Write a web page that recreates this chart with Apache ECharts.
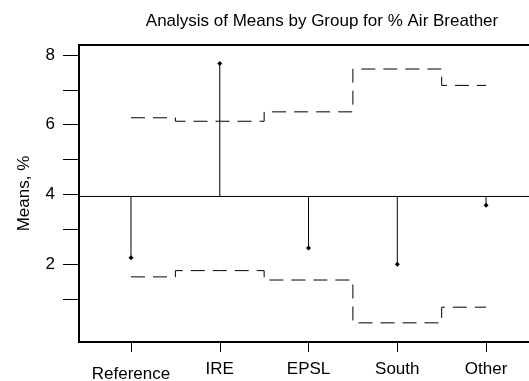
<!DOCTYPE html>
<html>
<head>
<meta charset="utf-8">
<script src="https://cdn.jsdelivr.net/npm/echarts@6/dist/echarts.min.js"></script>
<style>html,body{margin:0;padding:0;background:#fff;}#c{width:529px;height:381px;}</style>
</head>
<body>
<div id="c"></div>
<script>
var categories = ['Reference', 'IRE', 'EPSL', 'South', 'Other'];
var means = [2.18, 7.76, 2.46, 1.99, 3.69];
var upperLimits = [6.20, 6.10, 6.37, 7.60, 7.13];
var lowerLimits = [1.63, 1.81, 1.54, 0.31, 0.76];
var centerLine = 3.94;
var yTicks = [1, 2, 3, 4, 5, 6, 7, 8];
var yLabels = [2, 4, 6, 8];

var idx = categories.map(function (c, i) { return i; });
var FONT = 'Liberation Sans, Arial, sans-serif';

var chart = echarts.init(document.getElementById('c'), null, {renderer: 'canvas'});
chart.setOption({
  animation: false,
  backgroundColor: '#fff',
  title: {
    text: 'Analysis of Means by Group for % Air Breather',
    left: 317, top: 8, textAlign: 'center',
    textStyle: {fontFamily: FONT, fontSize: 17, fontWeight: 'normal', color: '#000'}
  },
  grid: {left: 79, top: 45, right: 0, bottom: 39, containLabel: false, outerBoundsMode: 'none'},
  xAxis: [{
    type: 'value', min: -0.586, max: 4.484,
    axisLine: {show: true, onZero: false, lineStyle: {color: '#000', width: 2}},
    axisTick: {show: true, customValues: idx, length: 10, lineStyle: {color: '#000', width: 1}},
    axisLabel: {
      customValues: idx, margin: 19, color: '#000', fontFamily: FONT, fontSize: 17,
      formatter: function (v) {
        var i = Math.round(v);
        return i === 0 ? '{low|' + categories[i] + '}' : categories[i];
      },
      rich: {low: {fontFamily: FONT, fontSize: 17, color: '#000', padding: [5, 0, 0, 0]}}
    },
    splitLine: {show: false}
  }, {
    type: 'value', position: 'top', min: -0.586, max: 4.484,
    axisLine: {show: true, onZero: false, lineStyle: {color: '#000', width: 2}},
    axisTick: {show: false}, axisLabel: {show: false}, splitLine: {show: false}
  }],
  yAxis: {
    type: 'value', min: -0.24, max: 8.29,
    name: 'Means, %', nameLocation: 'middle', nameGap: 46,
    nameTextStyle: {fontFamily: FONT, fontSize: 17, color: '#000'},
    axisLine: {show: true, onZero: false, lineStyle: {color: '#000', width: 2}},
    axisTick: {show: true, customValues: yTicks, length: 16, lineStyle: {color: '#000', width: 1}},
    axisLabel: {customValues: yLabels, margin: 24, color: '#000', fontFamily: FONT, fontSize: 17},
    splitLine: {show: false}
  },
  series: [
    {
      type: 'line', step: 'middle', symbol: 'none',
      data: idx.map(function (i) { return [i, upperLimits[i]]; }),
      lineStyle: {color: '#000', width: 1, type: [14, 8]}
    },
    {
      type: 'line', step: 'middle', symbol: 'none',
      data: idx.map(function (i) { return [i, lowerLimits[i]]; }),
      lineStyle: {color: '#000', width: 1, type: [14, 8]}
    },
    {
      type: 'line', symbol: 'none',
      data: [[-0.586, centerLine], [4.484, centerLine]],
      lineStyle: {color: '#000', width: 1}
    },
    {
      type: 'custom',
      data: idx.map(function (i) { return [i, means[i]]; }),
      renderItem: function (params, api) {
        var x = api.value(0), y = api.value(1);
        var p0 = api.coord([x, centerLine]);
        var p1 = api.coord([x, y]);
        var s = 2.5;
        return {
          type: 'group',
          children: [
            {type: 'line', shape: {x1: p0[0], y1: p0[1], x2: p1[0], y2: p1[1]}, style: {stroke: '#000', lineWidth: 1}},
            {type: 'polygon', shape: {points: [[p1[0], p1[1] - s], [p1[0] + s, p1[1]], [p1[0], p1[1] + s], [p1[0] - s, p1[1]]]}, style: {fill: '#000'}}
          ]
        };
      }
    }
  ]
});
</script>
</body>
</html>
